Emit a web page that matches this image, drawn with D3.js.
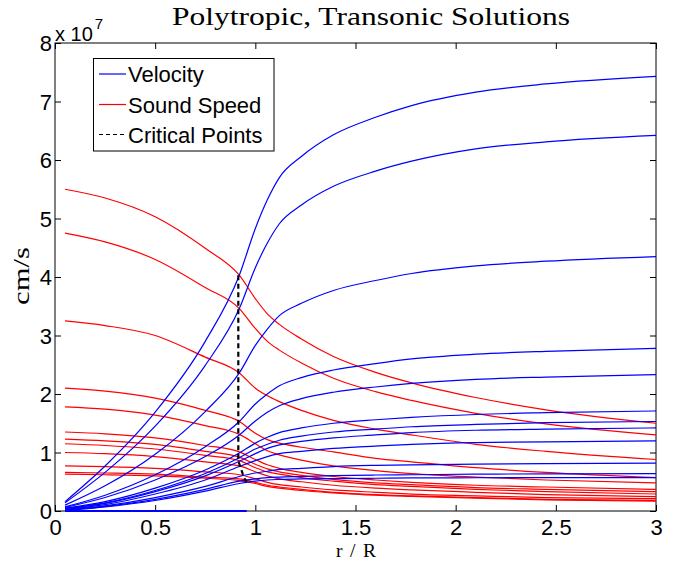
<!DOCTYPE html>
<html><head><meta charset="utf-8">
<script src="https://cdn.jsdelivr.net/npm/d3@7"></script>
<style>body{margin:0;background:#fff}svg{display:block}</style>
</head><body>
<svg id="chart" width="680" height="562"></svg>
<script>
// radius grid (r/R) shared by all curves
const rGrid = [0.05, 0.25, 0.5, 0.75, 0.92, 1.0, 1.06, 1.12, 1.23, 1.39, 1.6, 1.78, 2.1, 2.45, 3.0];
// velocities, in units of 1e7 cm/s
const vel1  = [0.16, 0.77, 1.69, 2.90, 4.03, 4.83, 5.32, 5.70, 6.06, 6.43, 6.73, 6.93, 7.16, 7.30, 7.43];
const vel2  = [0.14, 0.66, 1.45, 2.49, 3.46, 4.16, 4.58, 4.91, 5.23, 5.55, 5.81, 5.98, 6.19, 6.31, 6.42];
const vel3  = [0.10, 0.43, 0.97, 1.70, 2.36, 2.83, 3.11, 3.34, 3.55, 3.77, 3.94, 4.06, 4.19, 4.27, 4.35];
const vel4  = [0.07, 0.27, 0.62, 1.10, 1.53, 1.83, 2.00, 2.14, 2.28, 2.41, 2.52, 2.60, 2.68, 2.73, 2.78];
const vel5  = [0.06, 0.23, 0.53, 0.93, 1.30, 1.54, 1.69, 1.80, 1.92, 2.03, 2.12, 2.18, 2.25, 2.29, 2.33];
const vel6  = [0.05, 0.16, 0.39, 0.70, 0.99, 1.16, 1.26, 1.34, 1.42, 1.50, 1.56, 1.60, 1.65, 1.68, 1.71];
const vel7  = [0.04, 0.14, 0.35, 0.64, 0.91, 1.06, 1.14, 1.21, 1.28, 1.35, 1.40, 1.44, 1.48, 1.51, 1.53];
const vel8  = [0.035, 0.13, 0.33, 0.60, 0.85, 0.98, 1.07, 1.13, 1.19, 1.25, 1.30, 1.34, 1.38, 1.40, 1.42];
const vel9  = [0.03, 0.11, 0.29, 0.53, 0.76, 0.86, 0.93, 0.98, 1.02, 1.07, 1.11, 1.14, 1.17, 1.18, 1.20];
const vel10 = [0.02, 0.09, 0.23, 0.42, 0.59, 0.65, 0.68, 0.71, 0.73, 0.76, 0.78, 0.79, 0.80, 0.81, 0.82];
const vel11 = [0.015, 0.08, 0.20, 0.37, 0.51, 0.55, 0.57, 0.58, 0.59, 0.605, 0.615, 0.62, 0.63, 0.635, 0.64];
const vel12 = [0.01, 0.07, 0.18, 0.34, 0.47, 0.51, 0.53, 0.54, 0.55, 0.555, 0.56, 0.565, 0.568, 0.57, 0.57];
// sound speeds, in units of 1e7 cm/s
const snd1  = [5.50, 5.35, 5.03, 4.49, 4.03, 3.63, 3.37, 3.19, 2.94, 2.64, 2.37, 2.19, 1.94, 1.73, 1.50];
const snd2  = [4.75, 4.60, 4.30, 3.82, 3.46, 3.12, 2.90, 2.75, 2.53, 2.27, 2.04, 1.89, 1.67, 1.49, 1.30];
const snd3  = [3.25, 3.17, 3.00, 2.63, 2.36, 2.10, 1.97, 1.87, 1.72, 1.55, 1.40, 1.30, 1.14, 1.02, 0.88];
const snd4  = [2.10, 2.05, 1.93, 1.72, 1.53, 1.33, 1.22, 1.16, 1.09, 1.01, 0.90, 0.84, 0.74, 0.66, 0.57];
const snd5  = [1.78, 1.74, 1.64, 1.46, 1.31, 1.15, 1.03, 0.96, 0.87, 0.77, 0.69, 0.64, 0.58, 0.53, 0.48];
const snd6  = [1.35, 1.32, 1.25, 1.12, 1.01, 0.88, 0.79, 0.73, 0.66, 0.59, 0.53, 0.49, 0.44, 0.41, 0.37];
const snd7  = [1.23, 1.20, 1.14, 1.02, 0.92, 0.80, 0.72, 0.67, 0.61, 0.54, 0.48, 0.45, 0.40, 0.37, 0.33];
const snd8  = [1.15, 1.12, 1.06, 0.95, 0.86, 0.74, 0.67, 0.63, 0.57, 0.51, 0.45, 0.42, 0.37, 0.33, 0.29];
const snd9  = [1.00, 0.98, 0.93, 0.84, 0.77, 0.67, 0.60, 0.55, 0.50, 0.44, 0.39, 0.36, 0.32, 0.28, 0.245];
const snd10 = [0.77, 0.76, 0.73, 0.67, 0.62, 0.55, 0.49, 0.45, 0.41, 0.36, 0.32, 0.29, 0.26, 0.23, 0.21];
const snd11 = [0.66, 0.65, 0.63, 0.58, 0.55, 0.49, 0.44, 0.41, 0.37, 0.32, 0.28, 0.26, 0.23, 0.20, 0.18];
const snd12 = [0.63, 0.62, 0.60, 0.56, 0.52, 0.47, 0.42, 0.39, 0.35, 0.31, 0.27, 0.25, 0.22, 0.19, 0.17];
// failed (zero-velocity) branch
const zeroR = [0.05, 0.957];
const zeroV = [0, 0];
// critical points
const critR = [0.915, 0.915, 0.915, 0.915, 0.915, 0.915, 0.915, 0.915, 0.925, 0.94, 0.95, 0.957];
const critV = [4.03, 3.46, 2.36, 1.53, 1.30, 1.00, 0.91, 0.85, 0.76, 0.60, 0.53, 0.50];
// ticks
const xTicks = [0, 0.5, 1, 1.5, 2, 2.5, 3];
const xTickLabels = ["0", "0.5", "1", "1.5", "2", "2.5", "3"];
const yTicks = [0, 1, 2, 3, 4, 5, 6, 7, 8];
const yTickLabels = ["0", "1", "2", "3", "4", "5", "6", "7", "8"];
const legendLabels = ["Velocity", "Sound Speed", "Critical Points"];

const velocities = [vel1, vel2, vel3, vel4, vel5, vel6, vel7, vel8, vel9, vel10, vel11, vel12];
const sounds = [snd1, snd2, snd3, snd4, snd5, snd6, snd7, snd8, snd9, snd10, snd11, snd12];

const svg = d3.select("#chart");
const L = 55, R = 656, T = 43, B = 511;
const x = d3.scaleLinear().domain([0, 3]).range([L, R]);
const y = d3.scaleLinear().domain([0, 8]).range([B, T]);
const sans = "'Liberation Sans', Arial, Helvetica, sans-serif";
const serif = "'Liberation Serif', 'Times New Roman', serif";

// axes box
svg.append("rect").attr("x", L).attr("y", T).attr("width", R - L).attr("height", B - T)
  .attr("fill", "none").attr("stroke", "#000").attr("stroke-width", 1);

// ticks via d3 axes (inward)
const tl = 6;
const axB = d3.axisBottom(x).tickValues(xTicks).tickSize(tl).tickFormat((d, i) => xTickLabels[i]);
const gB = svg.append("g").attr("transform", `translate(0,${B})`).call(axB);
gB.select(".domain").remove();
gB.selectAll(".tick line").attr("y2", -tl);
gB.selectAll(".tick text").attr("y", 23.5).attr("dy", 0).attr("font-size", 22).attr("font-family", sans).attr("fill", "#000");
const axT = d3.axisTop(x).tickValues(xTicks).tickSize(tl).tickFormat("");
const gT = svg.append("g").attr("transform", `translate(0,${T})`).call(axT);
gT.select(".domain").remove();
gT.selectAll(".tick line").attr("y2", tl);
const axL = d3.axisLeft(y).tickValues(yTicks).tickSize(tl).tickFormat((d, i) => yTickLabels[i]);
const gL = svg.append("g").attr("transform", `translate(${L},0)`).call(axL);
gL.select(".domain").remove();
gL.selectAll(".tick line").attr("x2", tl);
gL.selectAll(".tick text").attr("x", -3).attr("dy", "0.36em").attr("font-size", 22).attr("font-family", sans).attr("fill", "#000");
const axR = d3.axisRight(y).tickValues(yTicks).tickSize(tl).tickFormat("");
const gR = svg.append("g").attr("transform", `translate(${R},0)`).call(axR);
gR.select(".domain").remove();
gR.selectAll(".tick line").attr("x2", -tl);
svg.selectAll(".tick line").attr("stroke", "#000");

// exponent label
const ex = svg.append("text").attr("x", 55).attr("y", 40.5).attr("font-family", sans).attr("font-size", 20).attr("fill", "#000");
ex.append("tspan").text("x 10");
ex.append("tspan").attr("font-size", 15).attr("dy", -11.5).attr("dx", 2).text("7");

// lines
const line = d3.line().x(d => x(d[0])).y(d => y(d[1])).curve(d3.curveMonotoneX);
const plot = svg.append("g");
sounds.forEach(s => {
  plot.append("path").datum(rGrid.map((r, i) => [r, s[i]])).attr("d", line)
    .attr("fill", "none").attr("stroke", "#ff0000").attr("stroke-width", 1.2);
});
velocities.forEach(v => {
  plot.append("path").datum(rGrid.map((r, i) => [r, v[i]])).attr("d", line)
    .attr("fill", "none").attr("stroke", "#0000ff").attr("stroke-width", 1.2);
});
plot.append("path").datum(zeroR.map((r, i) => [r, zeroV[i]])).attr("d", d3.line().x(d => x(d[0])).y(d => y(d[1])))
  .attr("fill", "none").attr("stroke", "#0000ff").attr("stroke-width", 2);
plot.append("path").datum(critR.map((r, i) => [r, critV[i]]))
  .attr("d", d3.line().x(d => x(d[0])).y(d => y(d[1])))
  .attr("fill", "none").attr("stroke", "#000").attr("stroke-width", 2.2).attr("stroke-dasharray", "5,3.5");

// title & axis labels
svg.append("text").attr("x", 172).attr("y", 25).attr("font-family", serif).attr("font-size", 26)
  .attr("textLength", 398).attr("lengthAdjust", "spacingAndGlyphs").attr("fill", "#000").text("Polytropic, Transonic Solutions");
svg.append("text").attr("x", 336).attr("y", 556.5).attr("font-family", serif).attr("font-size", 19.5)
  .attr("textLength", 40).attr("lengthAdjust", "spacing").attr("fill", "#000").text("r/R");
svg.append("text").attr("transform", "translate(29,305) rotate(-90)").attr("x", 0).attr("y", 0)
  .attr("font-family", serif).attr("font-size", 24).attr("textLength", 58).attr("lengthAdjust", "spacingAndGlyphs")
  .attr("fill", "#000").text("cm/s");

// legend
const lg = svg.append("g");
lg.append("rect").attr("x", 93.5).attr("y", 58.5).attr("width", 180.5).attr("height", 92.5)
  .attr("fill", "#fff").attr("stroke", "#000").attr("stroke-width", 1);
const lgColors = ["#0000ff", "#ff0000", "#000"];
const lgY = [74, 104.5, 134.5];
legendLabels.forEach((lab, i) => {
  lg.append("line").attr("x1", 99).attr("x2", 126).attr("y1", lgY[i]).attr("y2", lgY[i])
    .attr("stroke", lgColors[i]).attr("stroke-width", 1.2)
    .attr("stroke-dasharray", i === 2 ? "4,3" : null);
  lg.append("text").attr("x", 128).attr("y", lgY[i] + 8.3).attr("font-family", sans).attr("font-size", 22)
    .attr("fill", "#000").text(lab);
});
</script>
</body></html>
